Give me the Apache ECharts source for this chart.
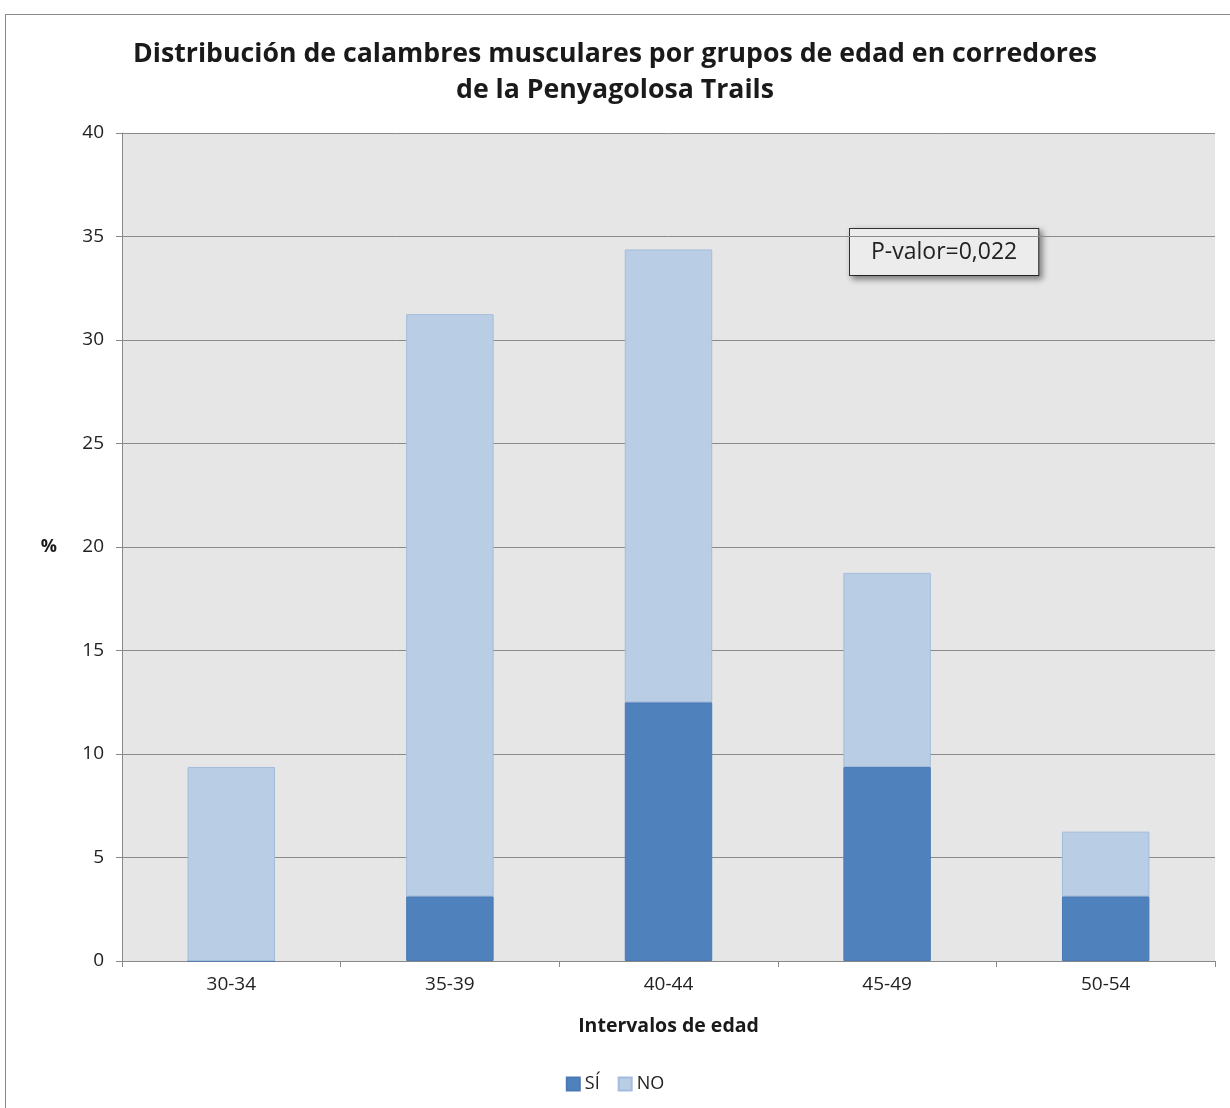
<!DOCTYPE html>
<html>
<head>
<meta charset="utf-8">
<script src="https://cdn.jsdelivr.net/npm/echarts@6/dist/echarts.min.js"></script>
<style>
  html, body { margin: 0; padding: 0; background: #fff; }
  #frame { position: absolute; left: 5px; top: 14px; width: 1240px; height: 1100px; border: 1px solid #888; box-sizing: border-box; }
  #chart { position: absolute; left: 0; top: 0; width: 1230px; height: 1108px; }
</style>
</head>
<body>
<div id="frame"></div>
<div id="chart"></div>
<script>
var categories = ['30-34', '35-39', '40-44', '45-49', '50-54'];
var siValues = [0, 3.125, 12.5, 9.375, 3.125];
var noValues = [9.375, 28.125, 21.875, 9.375, 3.125];
var yTicks = [0, 5, 10, 15, 20, 25, 30, 35, 40];

var font = '"Open Sans", "Noto Sans", sans-serif';

var chart = echarts.init(document.getElementById('chart'));
var option = {
    animation: false,
    title: {
        text: 'Distribución de calambres musculares por grupos de edad en corredores\nde la Penyagolosa Trails',
        left: 'center',
        top: 31,
        textStyle: {
            fontFamily: font,
            fontSize: 26.7,
            fontWeight: 'bold',
            color: '#1a1a1a',
            lineHeight: 36
        }
    },
    grid: {
        left: 122,
        right: 15,
        top: 133,
        bottom: 147,
        show: true,
        backgroundColor: '#e6e6e6',
        borderWidth: 0
    },
    legend: {
        bottom: 10,
        left: 'center',
        icon: 'rect',
        itemWidth: 13,
        itemHeight: 13,
        itemGap: 18,
        textStyle: {fontFamily: font, fontSize: 18, color: '#222'},
        data: ['SÍ', 'NO']
    },
    xAxis: {
        type: 'category',
        data: categories,
        name: 'Intervalos de edad',
        nameLocation: 'middle',
        nameGap: 55,
        nameTextStyle: {fontFamily: font, fontSize: 19.5, fontWeight: 'bold', color: '#1a1a1a'},
        axisLine: {lineStyle: {color: '#888', width: 1}},
        axisTick: {show: true, length: 6, alignWithLabel: false, lineStyle: {color: '#888'}},
        axisLabel: {fontFamily: font, fontSize: 19, color: '#222', margin: 14}
    },
    yAxis: {
        type: 'value',
        min: 0,
        max: 40,
        interval: 5,
        name: '%',
        nameLocation: 'middle',
        nameRotate: 0,
        nameGap: 65,
        nameTextStyle: {fontFamily: font, fontSize: 18, fontWeight: 'bold', color: '#1a1a1a'},
        axisLine: {show: true, lineStyle: {color: '#888', width: 1}},
        axisTick: {show: true, length: 6, inside: false, lineStyle: {color: '#888'}},
        splitLine: {lineStyle: {color: '#8a8a8a', width: 1}},
        axisLabel: {
            fontFamily: font, fontSize: 19, color: '#222', margin: 18,
            formatter: function (v) { return yTicks.indexOf(v) >= 0 ? String(v) : ''; }
        }
    },
    series: [
        {
            name: 'SÍ',
            type: 'bar',
            stack: 'total',
            barWidth: '40%',
            itemStyle: {color: '#4f81bd', borderColor: '#4a7ab5', borderWidth: 1},
            data: siValues
        },
        {
            name: 'NO',
            type: 'bar',
            stack: 'total',
            barWidth: '40%',
            itemStyle: {color: '#b9cde5', borderColor: '#a4bcdb', borderWidth: 1},
            data: noValues
        }
    ],
    graphic: [
        {
            type: 'text',
            left: 849,
            top: 228,
            style: {
                text: 'P-valor=0,022',
                fontFamily: font,
                fontSize: 23,
                fill: '#222',
                backgroundColor: '#ececec',
                borderColor: '#333',
                borderWidth: 1,
                padding: [12, 21, 11, 21],
                shadowColor: 'rgba(0,0,0,0.45)',
                shadowBlur: 6,
                shadowOffsetX: 3,
                shadowOffsetY: 3
            }
        }
    ]
};
chart.setOption(option);
</script>
</body>
</html>
